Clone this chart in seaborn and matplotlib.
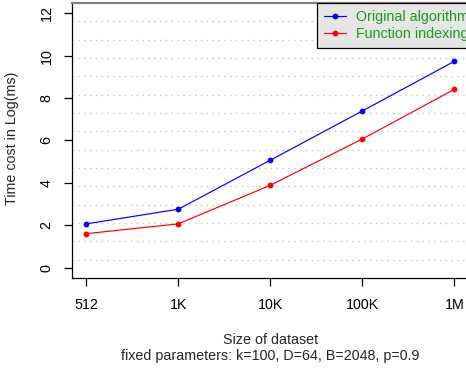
import matplotlib
matplotlib.use("Agg")
import matplotlib.pyplot as plt
import seaborn as sns
import pandas as pd
import numpy as np

# data
sizes = ["512", "1K", "10K", "100K", "1M"]
original = [2.07, 2.76, 5.07, 7.39, 9.73]
function_idx = [1.61, 2.07, 3.89, 6.07, 8.41]
series_names = ["Original algorithm", "Function indexing"]
y_ticks = [0, 2, 4, 6, 8, 10, 12]

sns.set_style("white")
plt.rcParams["font.family"] = ["Liberation Sans", "DejaVu Sans"]
plt.rcParams["font.size"] = 10.3

W, H = 466, 372
fig = plt.figure(figsize=(W / 100, H / 100), dpi=100)
left, right, top, bottom = 71.5, 469.0, 3.0, 278.0
ax = fig.add_axes([left / W, 1 - bottom / H, (right - left) / W, (bottom - top) / H])

pos = np.arange(len(sizes))
df = pd.DataFrame({
    "pos": np.concatenate([pos, pos]),
    "value": original + function_idx,
    "series": [series_names[0]] * len(sizes) + [series_names[1]] * len(sizes),
})

ylo, yhi = -0.48, 12.48
# dotted grid: 15 equal divisions of the plot region
for gy in np.linspace(ylo, yhi, 16)[1:-1]:
    ax.axhline(gy, color="#c4c4c4", lw=1.0, ls=(0, (1, 3.2)), zorder=0)

sns.lineplot(data=df, x="pos", y="value", hue="series", sort=False,
             palette={series_names[0]: "#0000ff", series_names[1]: "#ff0000"},
             marker="o", markersize=4.2, markeredgewidth=0, lw=0.85,
             ax=ax, legend=True, zorder=3)

ax.set_xlim(-0.16, 4.16)
ax.set_ylim(ylo, yhi)
ax.set_xticks(pos)
ax.set_xticklabels(sizes)
ax.set_yticks(y_ticks)
ax.set_yticklabels([str(t) for t in y_ticks], rotation=90, va="center")

for s in ["left", "bottom"]:
    ax.spines[s].set_color("black")
    ax.spines[s].set_linewidth(0.9)
ax.spines["right"].set_visible(False)
ax.spines["top"].set_color("#808080")
ax.spines["top"].set_linewidth(1.6)

ax.tick_params(axis="both", direction="out", length=6, width=0.9, color="black",
               labelsize=10.3, labelcolor="black")
ax.tick_params(axis="x", pad=8.5)
ax.tick_params(axis="y", pad=7)
ax.xaxis.set_ticks_position("bottom")
ax.yaxis.set_ticks_position("left")

ax.set_xlabel("Size of dataset\nfixed parameters: k=100, D=64, B=2048, p=0.9",
              fontsize=10.3, linespacing=1.25)
ax.xaxis.label.set_va("center")
ax.xaxis.set_label_coords(0.5, (bottom - 348) / (bottom - top))
ax.set_ylabel("Time cost in Log(ms)", fontsize=10.3)
ax.yaxis.label.set_va("center")
ax.yaxis.set_label_coords((12.5 - left) / (right - left), (bottom - 138) / (bottom - top))

handles, labels = ax.get_legend_handles_labels()
ax.get_legend().remove()
leg = fig.legend(handles, labels, loc="upper left",
                 bbox_to_anchor=(317.3 / W, 1 - 3.3 / H), bbox_transform=fig.transFigure,
                 borderaxespad=0, frameon=True, fancybox=False, framealpha=1,
                 facecolor="#e6e6e6", edgecolor="black", fontsize=10.3,
                 handlelength=1.5, handletextpad=0.68, borderpad=0.5,
                 labelspacing=0.15)
leg.get_frame().set_linewidth(0.9)
for t in leg.get_texts():
    t.set_color("#1a991a")

fig.savefig("out.png", dpi=100)
